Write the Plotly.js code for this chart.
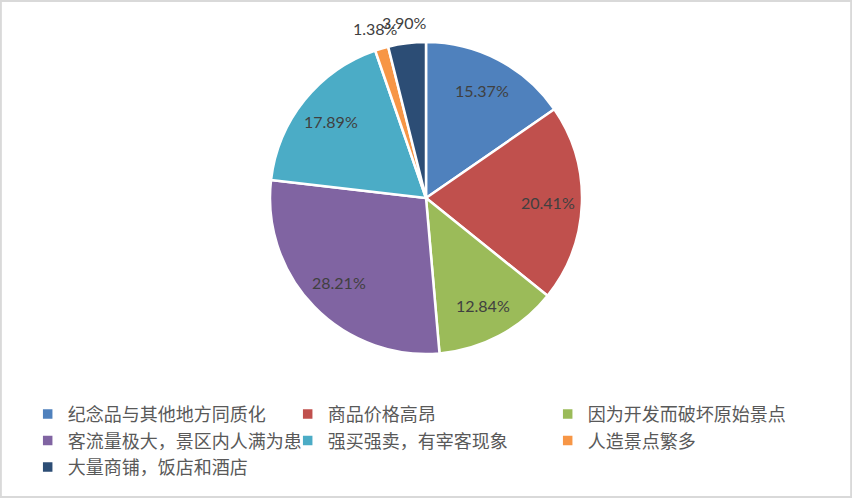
<!DOCTYPE html>
<html>
<head>
<meta charset="utf-8">
<script src="https://cdn.plot.ly/plotly-3.0.1.min.js"></script>
<style>
  html, body { margin: 0; padding: 0; background: #fff; }
  #chart { width: 852px; height: 498px; }
</style>
</head>
<body>
<div id="chart"></div>
<script>
// reasons listed by respondents (share, %)
const categories = [
  '纪念品与其他地方同质化',
  '商品价格高昂',
  '因为开发而破坏原始景点',
  '客流量极大，景区内人满为患',
  '强买强卖，有宰客现象',
  '人造景点繁多',
  '大量商铺，饭店和酒店'
];
const shares = [15.37, 20.41, 12.84, 28.21, 17.89, 1.38, 3.90];
const sliceColors = ['#4F81BD', '#C0504D', '#9BBB59', '#8064A2', '#4BACC6', '#F79646', '#2C4D75'];

const W = 852, H = 498;
const pieDomain = { x: [0.3169, 0.6831], y: [0.2891, 0.9157] };

// data labels: Excel-style, inside at ~0.78 of the radius, small slices just outside
const cx = (pieDomain.x[0] + pieDomain.x[1]) / 2 * W;
const cy = (1 - (pieDomain.y[0] + pieDomain.y[1]) / 2) * H;
const R = Math.min((pieDomain.x[1] - pieDomain.x[0]) * W, (pieDomain.y[1] - pieDomain.y[0]) * H) / 2;
const total = shares.reduce((a, b) => a + b, 0);
let cum = 0;
const labelNotes = shares.map(v => {
  const mid = (cum + v / 2) / total * 2 * Math.PI;
  cum += v;
  const r = v < 5 ? R + 21 : R * 0.78;
  const px = cx + r * Math.sin(mid);
  const py = cy - r * Math.cos(mid);
  return {
    x: px / W, y: 1 - py / H, xref: 'paper', yref: 'paper',
    text: v.toFixed(2) + '%', showarrow: false,
    xanchor: 'center', yanchor: 'middle',
    font: { family: 'Lato, "Open Sans", sans-serif', size: 16, color: '#404040' },
  };
});

Plotly.newPlot('chart', [{
  type: 'pie',
  labels: categories,
  values: shares,
  sort: false,
  direction: 'clockwise',
  rotation: 0,
  marker: { colors: sliceColors, line: { color: '#FFFFFF', width: 2.5 } },
  textinfo: 'none',
  domain: pieDomain,
  hoverinfo: 'label+percent',
}], {
  width: W,
  height: H,
  paper_bgcolor: '#FFFFFF',
  margin: { l: 0, r: 0, t: 0, b: 0 },
  showlegend: true,
  legend: {
    orientation: 'h',
    x: 0.0325, xanchor: 'left',
    y: 0.205, yanchor: 'top',
    entrywidth: 215, entrywidthmode: 'pixels',
    font: { family: '"Noto Sans CJK SC", sans-serif', size: 18, color: '#595959' },
    traceorder: 'normal',
  },
  annotations: labelNotes,
  shapes: [{
    type: 'rect', xref: 'paper', yref: 'paper',
    x0: 0.001, x1: 0.999, y0: 0.002, y1: 0.998,
    line: { color: '#D9D9D9', width: 2 },
  }],
}, { displayModeBar: false, responsive: false });
</script>
</body>
</html>
